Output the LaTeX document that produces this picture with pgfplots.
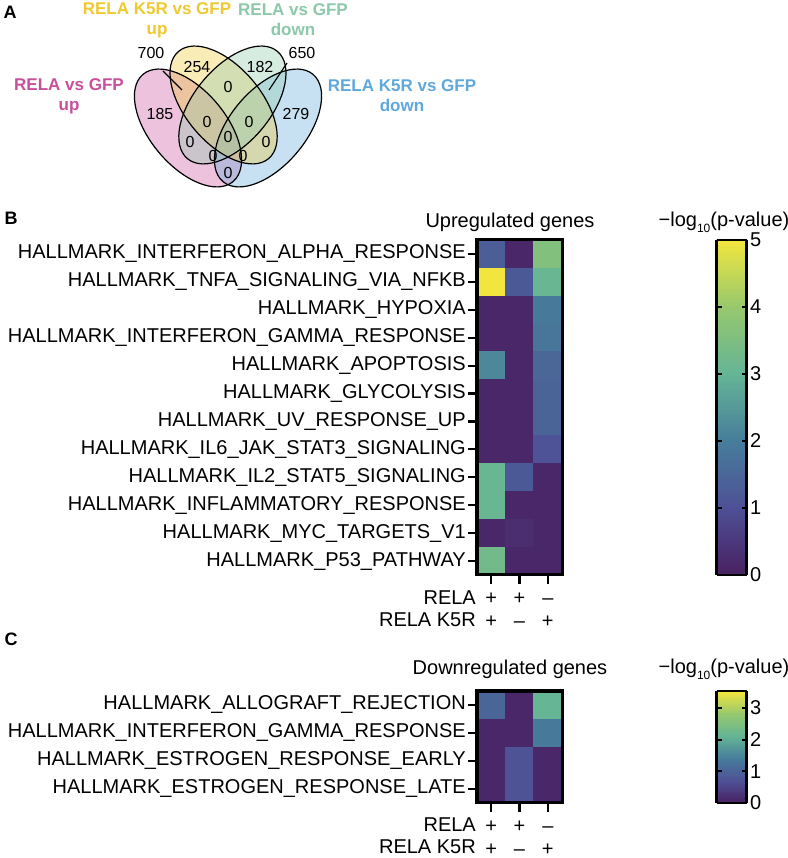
\documentclass[border=0pt]{standalone}
\usepackage{fontspec}
\setmainfont{Liberation Sans}
\usepackage{pgfplots}
\pgfplotsset{compat=1.18}

\definecolor{vpink}{RGB}{200,80,155}
\definecolor{vyellow}{RGB}{240,200,48}
\definecolor{vgreen}{RGB}{140,200,170}
\definecolor{vblue}{RGB}{95,168,220}

\newcommand\fz{\fontsize{20bp}{22bp}\selectfont}
\newcommand\fv{\fontsize{17bp}{20bp}\selectfont\bfseries}
\newcommand\lgp{\textminus log\raisebox{-0.3em}{\fontsize{12bp}{12bp}\selectfont 10}(p-value)}
\newcommand\up{\rule{0pt}{15.4bp}}

\pgfplotsset{
  colormap={pvir}{rgb255=(72,32,96) rgb255=(78,80,150) rgb255=(70,125,155)
    rgb255=(100,180,150) rgb255=(150,200,110) rgb255=(242,230,62)},
  /pgf/number format/assume math mode=true,
  heat/.style={
    scale only axis, width=85bp,
    xmin=-0.5, xmax=2.5, ymin=-0.5, y dir=reverse,
    xtick={0,1,2},
    xticklabels={{\strut+\\\up+},{\strut+\\\up\textendash},{\strut\textendash\\\up+}},
    xticklabel style={align=center, font=\fz, inner sep=1bp, yshift=-4bp},
    yticklabel style={font=\fz, inner sep=2bp},
    xtick pos=left, ytick pos=left,
    tick align=outside, major tick length=9bp,
    tick style={line width=2.2bp, black},
    axis line style={line width=3bp},
    axis on top,
    colormap name=pvir, point meta min=0,
    colorbar sampled,
  },
  cbar/.style={
    at={(parent axis.north east)}, anchor=north west, xshift=146bp,
    width=30bp, samples=120,
    yticklabel pos=right,
    tick align=inside, major tick length=5bp,
    tick style={line width=2bp, black},
    axis line style={line width=2.5bp},
    yticklabel style={font=\fz},
    ytick pos=both,
  },
}

\begin{document}
\begin{tikzpicture}
\useasboundingbox (0,0) rectangle (788bp,858bp);

% overlay axis: 1 unit = 1bp, y counted from the bottom
\begin{axis}[at={(0,0)}, anchor=south west, scale only axis,
  width=788bp, height=858bp, xmin=0, xmax=788, ymin=0, ymax=858,
  axis lines=none, clip=false]

  % Venn ellipses
  \fill[vpink, opacity=0.35, rotate around={-50:(axis cs:188,730)}]
    (axis cs:188,730) ellipse [x radius=70bp, y radius=38bp];
  \fill[vblue, opacity=0.35, rotate around={50:(axis cs:268,730)}]
    (axis cs:268,730) ellipse [x radius=70bp, y radius=38bp];
  \fill[vyellow, opacity=0.35, rotate around={-50:(axis cs:223.6,753)}]
    (axis cs:223.6,753) ellipse [x radius=70bp, y radius=38bp];
  \fill[vgreen, opacity=0.35, rotate around={50:(axis cs:232.4,753)}]
    (axis cs:232.4,753) ellipse [x radius=70bp, y radius=38bp];
  \draw[line width=1.2bp, rotate around={-50:(axis cs:188,730)}]
    (axis cs:188,730) ellipse [x radius=70bp, y radius=38bp];
  \draw[line width=1.2bp, rotate around={50:(axis cs:268,730)}]
    (axis cs:268,730) ellipse [x radius=70bp, y radius=38bp];
  \draw[line width=1.2bp, rotate around={-50:(axis cs:223.6,753)}]
    (axis cs:223.6,753) ellipse [x radius=70bp, y radius=38bp];
  \draw[line width=1.2bp, rotate around={50:(axis cs:232.4,753)}]
    (axis cs:232.4,753) ellipse [x radius=70bp, y radius=38bp];

  \draw[line width=1.2bp] (axis cs:163,787) -- (axis cs:182,768);
  \draw[line width=1.2bp] (axis cs:287,795) -- (axis cs:269,768);

  \begin{scope}[every node/.style={font=\fontsize{16bp}{18bp}\selectfont}]
    \node at (axis cs:151,805) {700};
    \node at (axis cs:302,805) {650};
    \node at (axis cs:197,791) {254};
    \node at (axis cs:260,791) {182};
    \node at (axis cs:160,744) {185};
    \node at (axis cs:296,744) {279};
    \node at (axis cs:228,771) {0};
    \node at (axis cs:207,736) {0};
    \node at (axis cs:249,736) {0};
    \node at (axis cs:228,721) {0};
    \node at (axis cs:190,716) {0};
    \node at (axis cs:266,716) {0};
    \node at (axis cs:213,702) {0};
    \node at (axis cs:243,702) {0};
    \node at (axis cs:228,685) {0};
  \end{scope}

  \node[align=center, font=\fv, text=vyellow] at (axis cs:157,838) {RELA K5R vs GFP\\up};
  \node[align=center, font=\fv, text=vgreen] at (axis cs:293,838) {RELA vs GFP\\down};
  \node[align=center, font=\fv, text=vpink] at (axis cs:69,762) {RELA vs GFP\\up};
  \node[align=center, font=\fv, text=vblue] at (axis cs:402,762) {RELA K5R vs GFP\\down};

  % panel letters
  \node[font=\fontsize{18bp}{20bp}\selectfont\bfseries] at (axis cs:10,846) {A};
  \node[font=\fontsize{18bp}{20bp}\selectfont\bfseries] at (axis cs:11,640) {B};
  \node[font=\fontsize{18bp}{20bp}\selectfont\bfseries] at (axis cs:11,219) {C};

  % titles
  \node[font=\fz] at (axis cs:510,636) {Upregulated genes};
  \node[font=\fz] at (axis cs:724,636) {\lgp};
  \node[font=\fz] at (axis cs:510,189) {Downregulated genes};
  \node[font=\fz] at (axis cs:724,189) {\lgp};

  % row labels under the heatmaps
  \begin{scope}[every node/.style={font=\fz, anchor=east, inner sep=0pt}]
    \node at (axis cs:476,260) {RELA};
    \node at (axis cs:476,238) {RELA K5R};
    \node at (axis cs:476,33) {RELA};
    \node at (axis cs:476,11) {RELA K5R};
  \end{scope}
\end{axis}

% B: upregulated genes
\begin{axis}[heat, at={(477bp,618bp)}, anchor=north west, height=335bp,
  ymax=11.5, ytick={0,...,11}, point meta max=5,
  yticklabels={HALLMARK\_INTERFERON\_ALPHA\_RESPONSE,
    HALLMARK\_TNFA\_SIGNALING\_VIA\_NFKB,
    HALLMARK\_HYPOXIA,
    HALLMARK\_INTERFERON\_GAMMA\_RESPONSE,
    HALLMARK\_APOPTOSIS,
    HALLMARK\_GLYCOLYSIS,
    HALLMARK\_UV\_RESPONSE\_UP,
    HALLMARK\_IL6\_JAK\_STAT3\_SIGNALING,
    HALLMARK\_IL2\_STAT5\_SIGNALING,
    HALLMARK\_INFLAMMATORY\_RESPONSE,
    HALLMARK\_MYC\_TARGETS\_V1,
    HALLMARK\_P53\_PATHWAY},
  colorbar style={cbar, ytick={0,1,2,3,4,5},
    extra description/.code={
      \foreach \v in {0.2,0.4,0.6,0.8}
        \draw[line width=2bp] (rel axis cs:0,\v) -- ++(5bp,0);}}]
  \addplot[matrix plot*, mesh/cols=3, point meta=explicit] table[meta=c] {
    x y c
    0 0 1.3
    1 0 0.15
    2 0 3.6
    0 1 5.0
    1 1 1.2
    2 1 3.1
    0 2 0.15
    1 2 0.15
    2 2 1.9
    0 3 0.15
    1 3 0.15
    2 3 1.85
    0 4 2.2
    1 4 0.15
    2 4 1.5
    0 5 0.15
    1 5 0.15
    2 5 1.45
    0 6 0.15
    1 6 0.15
    2 6 1.45
    0 7 0.15
    1 7 0.15
    2 7 1.05
    0 8 3.1
    1 8 1.2
    2 8 0.15
    0 9 3.1
    1 9 0.15
    2 9 0.15
    0 10 0.15
    1 10 0.3
    2 10 0.15
    0 11 3.3
    1 11 0.15
    2 11 0.15
  };
\end{axis}

% C: downregulated genes
\begin{axis}[heat, at={(477bp,167bp)}, anchor=north west, height=112bp,
  ymax=3.5, ytick={0,...,3}, point meta max=3.54,
  yticklabels={HALLMARK\_ALLOGRAFT\_REJECTION,
    HALLMARK\_INTERFERON\_GAMMA\_RESPONSE,
    HALLMARK\_ESTROGEN\_RESPONSE\_EARLY,
    HALLMARK\_ESTROGEN\_RESPONSE\_LATE},
  colorbar style={cbar, ytick={0,1,2,3},
    extra description/.code={
      \foreach \v in {0.2825,0.565,0.8475}
        \draw[line width=2bp] (rel axis cs:0,\v) -- ++(5bp,0);}}]
  \addplot[matrix plot*, mesh/cols=3, point meta=explicit] table[meta=c] {
    x y c
    0 0 1.05
    1 0 0.1
    2 0 2.15
    0 1 0.1
    1 1 0.1
    2 1 1.35
    0 2 0.1
    1 2 0.75
    2 2 0.1
    0 3 0.1
    1 3 0.75
    2 3 0.1
  };
\end{axis}
\end{tikzpicture}
\end{document}
